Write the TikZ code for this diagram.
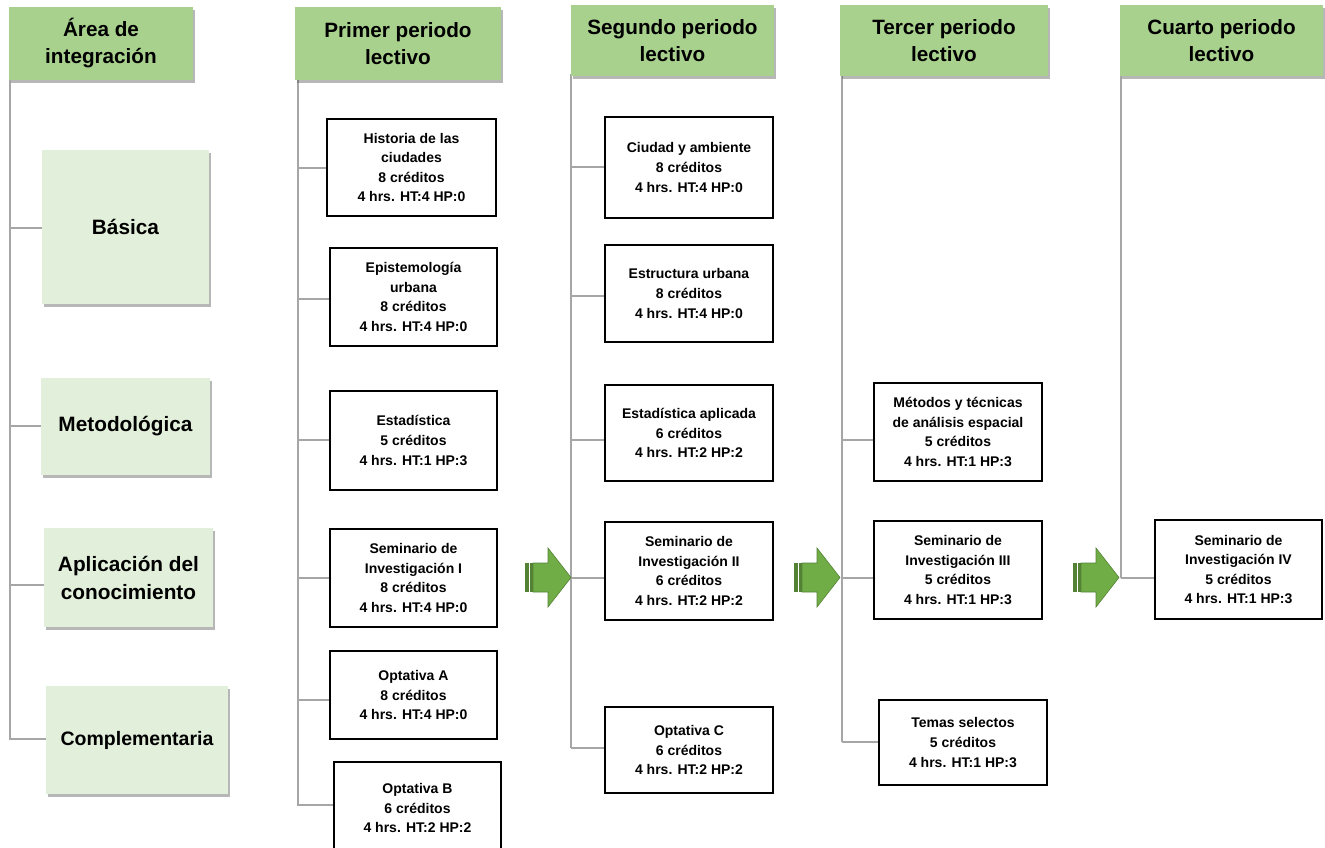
\documentclass[tikz,border=0pt]{standalone}
\usepackage{fontspec}
\setmainfont{Liberation Sans}
\usetikzlibrary{shadows}
\definecolor{hdr}{HTML}{A9D18E}
\definecolor{lgreen}{HTML}{E2EFDA}
\definecolor{connc}{HTML}{A6A6A6}
\definecolor{arrowfill}{HTML}{70AD47}
\definecolor{arrowdark}{HTML}{548235}
\begin{document}
\begin{tikzpicture}[x=1pt,y=-1pt,
  shadowed/.style={drop shadow={shadow xshift=2pt,shadow yshift=-2.5pt,opacity=0.4,fill=black!70}},
  hdrbox/.style={fill=hdr, inner sep=0pt, align=center, shadowed,
    font=\fontsize{20.7}{27}\selectfont\bfseries},
  areabox/.style={fill=lgreen, inner sep=0pt, align=center, shadowed,
    font=\fontsize{20.8}{28}\selectfont\bfseries},
  coursebox/.style={draw=black, line width=1.3pt, fill=white, inner sep=0pt, align=center,
    font=\fontsize{14}{19.6}\selectfont\bfseries},
  trunk/.style={draw=connc, line width=2pt},
  branch/.style={draw=connc, line width=2pt},
  blockarrow/.pic={
    \fill[arrowfill, draw=arrowdark, line width=0.6pt]
      (8,-14.5) -- (23,-14.5) -- (23,-29.5) -- (46,0) -- (23,29.5) -- (23,14.5) -- (8,14.5) -- cycle;
    \fill[arrowdark] (0,-14.5) rectangle (3.5,14.5);
    \fill[arrowdark] (4.8,-14.5) rectangle (7.6,14.5);
  }
]
\useasboundingbox (0,0) rectangle (1325,847);

% ---------- trunks ----------
\coordinate (t0a) at (10,78);   \coordinate (t0b) at (10,740);
\coordinate (t1a) at (298,78);  \coordinate (t1b) at (298,806);
\coordinate (t2a) at (571,74);  \coordinate (t2b) at (571,748);
\coordinate (t3a) at (842,74);  \coordinate (t3b) at (842,742);
\coordinate (t4a) at (1121,74); \coordinate (t4b) at (1121,578);
\draw[trunk] (t0a) -- (t0b);
\draw[trunk] (t1a) -- (t1b);
\draw[trunk] (t2a) -- (t2b);
\draw[trunk] (t3a) -- (t3b);
\draw[trunk] (t4a) -- (t4b);

% ---------- headers ----------
\node[hdrbox, minimum width=184, minimum height=73] (h0) at (101,43.5) {Área de\\integración};
\node[hdrbox, minimum width=206, minimum height=73] (h1) at (398,43.5) {Primer periodo\\lectivo};
\node[hdrbox, minimum width=203, minimum height=71] (h2) at (672.5,40.5) {Segundo periodo\\lectivo};
\node[hdrbox, minimum width=208, minimum height=71] (h3) at (944,40.5) {Tercer periodo\\lectivo};
\node[hdrbox, minimum width=203, minimum height=71] (h4) at (1221.5,40.5) {Cuarto periodo\\lectivo};

% ---------- area boxes ----------
\node[areabox, minimum width=167, minimum height=154] (b01) at (125.5,227) {Básica};
\node[areabox, minimum width=169, minimum height=97] (b02) at (125.5,426.5) {Metodológica};
\node[areabox, minimum width=169, minimum height=99] (b03) at (128.5,577.5) {Aplicación del\\conocimiento};
\node[areabox, minimum width=182, minimum height=108, font=\fontsize{19.5}{28}\selectfont\bfseries] (b04) at (137,740) {Complementaria};

% ---------- first period ----------
\node[coursebox, minimum width=169, minimum height=97] (c11) at (411.5,167.5) {Historia de las\\ciudades\\8 créditos\\4 hrs. HT:4 HP:0};
\node[coursebox, minimum width=167, minimum height=98] (c12) at (413.5,297) {Epistemología\\urbana\\8 créditos\\4 hrs. HT:4 HP:0};
\node[coursebox, minimum width=167, minimum height=99] (c13) at (413.5,440.5) {Estadística\\5 créditos\\4 hrs. HT:1 HP:3};
\node[coursebox, minimum width=167, minimum height=98] (c14) at (413.5,578) {Seminario de\\Investigación I\\8 créditos\\4 hrs. HT:4 HP:0};
\node[coursebox, minimum width=167, minimum height=88] (c15) at (413.5,695) {Optativa A\\8 créditos\\4 hrs. HT:4 HP:0};
\node[coursebox, minimum width=167, minimum height=92] (c16) at (417.5,808) {Optativa B\\6 créditos\\4 hrs. HT:2 HP:2};

% ---------- second period ----------
\node[coursebox, minimum width=168, minimum height=101] (c21) at (689,167.5) {Ciudad y ambiente\\8 créditos\\4 hrs. HT:4 HP:0};
\node[coursebox, minimum width=168, minimum height=97] (c22) at (689,293.5) {Estructura urbana\\8 créditos\\4 hrs. HT:4 HP:0};
\node[coursebox, minimum width=168, minimum height=96] (c23) at (689,433) {Estadística aplicada\\6 créditos\\4 hrs. HT:2 HP:2};
\node[coursebox, minimum width=168, minimum height=98] (c24) at (689,571) {Seminario de\\Investigación II\\6 créditos\\4 hrs. HT:2 HP:2};
\node[coursebox, minimum width=168, minimum height=86] (c25) at (689,750) {Optativa C\\6 créditos\\4 hrs. HT:2 HP:2};

% ---------- third period ----------
\node[coursebox, minimum width=168, minimum height=98] (c31) at (958,432) {Métodos y técnicas\\de análisis espacial\\5 créditos\\4 hrs. HT:1 HP:3};
\node[coursebox, minimum width=168, minimum height=98] (c32) at (958,570) {Seminario de\\Investigación III\\5 créditos\\4 hrs. HT:1 HP:3};
\node[coursebox, minimum width=168, minimum height=85] (c33) at (963,742.5) {Temas selectos\\5 créditos\\4 hrs. HT:1 HP:3};

% ---------- fourth period ----------
\node[coursebox, minimum width=167, minimum height=99] (c41) at (1238.5,569.5) {Seminario de\\Investigación IV\\5 créditos\\4 hrs. HT:1 HP:3};

% ---------- branches ----------
\coordinate (j01) at (10,228);  \coordinate (j02) at (10,426);
\coordinate (j03) at (10,585);  \coordinate (j04) at (10,739);
\draw[branch] (j01) -- (j01 -| b01.west);
\draw[branch] (j02) -- (j02 -| b02.west);
\draw[branch] (j03) -- (j03 -| b03.west);
\draw[branch] (j04) -- (j04 -| b04.west);

\coordinate (j11) at (298,168); \coordinate (j12) at (298,299);
\coordinate (j13) at (298,440); \coordinate (j14) at (298,578);
\coordinate (j15) at (298,700); \coordinate (j16) at (298,805);
\draw[branch] (j11) -- (j11 -| c11.west);
\draw[branch] (j12) -- (j12 -| c12.west);
\draw[branch] (j13) -- (j13 -| c13.west);
\draw[branch] (j14) -- (j14 -| c14.west);
\draw[branch] (j15) -- (j15 -| c15.west);
\draw[branch] (j16) -- (j16 -| c16.west);

\coordinate (j21) at (571,167); \coordinate (j22) at (571,296);
\coordinate (j23) at (571,440); \coordinate (j24) at (571,578);
\coordinate (j25) at (571,748);
\draw[branch] (j21) -- (j21 -| c21.west);
\draw[branch] (j22) -- (j22 -| c22.west);
\draw[branch] (j23) -- (j23 -| c23.west);
\draw[branch] (j24) -- (j24 -| c24.west);
\draw[branch] (j25) -- (j25 -| c25.west);

\coordinate (j31) at (842,440); \coordinate (j32) at (842,578);
\coordinate (j33) at (842,742);
\draw[branch] (j31) -- (j31 -| c31.west);
\draw[branch] (j32) -- (j32 -| c32.west);
\draw[branch] (j33) -- (j33 -| c33.west);

\coordinate (j41) at (1121,578);
\draw[branch] (j41) -- (j41 -| c41.west);

% ---------- block arrows ----------
\pic at (525,577.5) {blockarrow};
\pic at (794,577.5) {blockarrow};
\pic at (1073,577.5) {blockarrow};
\end{tikzpicture}
\end{document}
